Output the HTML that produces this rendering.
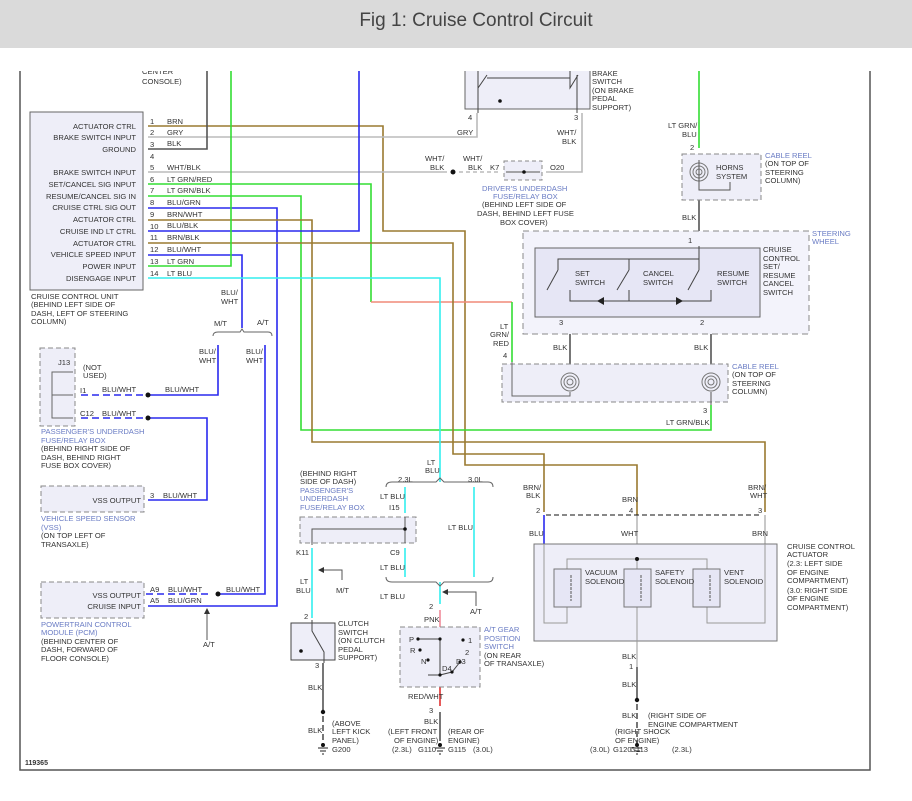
<!DOCTYPE html>
<html><head><meta charset="utf-8"><style>
html,body{margin:0;padding:0;background:#fff;}
svg{display:block;}
text{font-family:"Liberation Sans",sans-serif;font-size:7.6px;fill:#333;}
.b{fill:#6a7cc4;}
</style></head><body>
<svg width="912" height="801" viewBox="0 0 912 801" xmlns="http://www.w3.org/2000/svg">
<!-- frame -->
<path d="M20 60V770H870V60" fill="none" stroke="#555" stroke-width="1.5"/>
<g fill="none" stroke-width="1.6">
<path d="M148 126H383V231H465V465H637V515" stroke="#9a7a30"/>
<path d="M148 137H477V113" stroke="#bbb"/>
<path d="M148 149H207V60" stroke="#555"/>
<path d="M148 172H447" stroke="#bbb"/>
<path d="M459 172H500" stroke="#bbb" stroke-dasharray="4 3"/>
<path d="M546 172H582V113" stroke="#bbb"/>
<path d="M148 184H371V302" stroke="#33dd33"/>
<path d="M371 302H512" stroke="#f08a78"/>
<path d="M512 302V362" stroke="#33dd33"/>
<path d="M148 196H301V430H711V405" stroke="#33dd33"/>
<path d="M148 208H277V606H148" stroke="#2a2aee"/>
<path d="M148 220H312V442H765V512" stroke="#9a7a30"/>
<path d="M148 231H359V60" stroke="#2a2aee"/>
<path d="M148 243H453V454H544V512" stroke="#9a7a30"/>
<path d="M148 255H242V328" stroke="#2a2aee"/>
<path d="M148 266H231V60" stroke="#33dd33"/>
<path d="M148 278H440V482" stroke="#33eeee"/>
<path d="M699 60V148" stroke="#33dd33"/>
<path d="M218 345V395H154" stroke="#2a2aee"/>
<path d="M154 395H80M154 418H80M80 594H208" stroke="#2a2aee" stroke-dasharray="7 4"/>
<path d="M154 418H207V500H148" stroke="#2a2aee"/>
<path d="M265 345V594H220" stroke="#2a2aee"/>
<path d="M405 487V513M474 487V577M405 548V577M312 548V618M440 582V604" stroke="#33eeee"/>
<path d="M440 610V627" stroke="#f08a9a"/>
<path d="M440 687V706" stroke="#e03030"/>
<path d="M544 515V544" stroke="#2a2aee"/>
<path d="M637 515V559M765 515V544" stroke="#bbb"/>
<path d="M699 190V246M570 318V375M711 318V375M323 663V712M440 712V735M637 667V700" stroke="#555"/>
<path d="M323 716V745M440 735V745M637 704V745" stroke="#555" stroke-dasharray="6 3"/>
</g>
<g fill="#111"><circle cx="453" cy="172" r="2.5"/><circle cx="148" cy="395" r="2.5"/><circle cx="148" cy="418" r="2.5"/><circle cx="218" cy="594" r="2.5"/><circle cx="323" cy="712" r="2.2"/><circle cx="637" cy="700" r="2.2"/></g>
<path d="M213 336Q213 332 218 332H240L242 329L244 332H268Q272 332 272 336" fill="none" stroke="#666"/>
<path d="M386 487Q386 482 392 482H436L440 478L444 482H488Q493 482 493 487" fill="none" stroke="#666"/>
<path d="M386 577Q386 582 392 582H436L440 586L444 582H488Q493 582 493 577" fill="none" stroke="#666"/>
<rect x="30" y="112" width="113" height="178" fill="#eeeef8" stroke="#666"/>
<g text-anchor="end">
<text x="136" y="129">ACTUATOR CTRL</text><text x="136" y="140">BRAKE SWITCH INPUT</text><text x="136" y="152">GROUND</text>
<text x="136" y="175">BRAKE SWITCH INPUT</text><text x="136" y="187">SET/CANCEL SIG INPUT</text><text x="136" y="199">RESUME/CANCEL SIG IN</text>
<text x="136" y="210">CRUISE CTRL SIG OUT</text><text x="136" y="222">ACTUATOR CTRL</text><text x="136" y="234">CRUISE IND LT CTRL</text>
<text x="136" y="246">ACTUATOR CTRL</text><text x="136" y="257">VEHICLE SPEED INPUT</text><text x="136" y="269">POWER INPUT</text><text x="136" y="281">DISENGAGE INPUT</text>
</g>
<g>
<text x="150" y="124">1</text><text x="167" y="124">BRN</text><text x="150" y="135">2</text><text x="167" y="135">GRY</text>
<text x="150" y="147">3</text><text x="167" y="146">BLK</text><text x="150" y="159">4</text>
<text x="150" y="170">5</text><text x="167" y="170">WHT/BLK</text><text x="150" y="182">6</text><text x="167" y="182">LT GRN/RED</text>
<text x="150" y="193">7</text><text x="167" y="193">LT GRN/BLK</text><text x="150" y="205">8</text><text x="167" y="205">BLU/GRN</text>
<text x="150" y="217">9</text><text x="167" y="217">BRN/WHT</text><text x="150" y="229">10</text><text x="167" y="228">BLU/BLK</text>
<text x="150" y="240">11</text><text x="167" y="240">BRN/BLK</text><text x="150" y="252">12</text><text x="167" y="252">BLU/WHT</text>
<text x="150" y="264">13</text><text x="167" y="264">LT GRN</text><text x="150" y="276">14</text><text x="167" y="276">LT BLU</text>
<text x="31" y="299">CRUISE CONTROL UNIT</text><text x="31" y="307">(BEHIND LEFT SIDE OF</text><text x="31" y="316">DASH, LEFT OF STEERING</text><text x="31" y="324">COLUMN)</text>
<text x="142" y="74">CENTER</text><text x="142" y="84">CONSOLE)</text>
<text x="221" y="295">BLU/</text><text x="221" y="304">WHT</text>
<text x="214" y="326">M/T</text><text x="257" y="325">A/T</text>
<text x="199" y="354">BLU/</text><text x="199" y="363">WHT</text><text x="246" y="354">BLU/</text><text x="246" y="363">WHT</text>
</g>
<rect x="40" y="348" width="35" height="78" fill="#eeeef8" stroke="#888" stroke-dasharray="5 3"/>
<path d="M73 372H52V418H73M52 395H73" fill="none" stroke="#666"/>
<text x="58" y="365">J13</text><text x="83" y="370">(NOT</text><text x="83" y="378">USED)</text>
<text x="80" y="393">I1</text><text x="102" y="392">BLU/WHT</text><text x="165" y="392">BLU/WHT</text>
<text x="80" y="416">C12</text><text x="102" y="416">BLU/WHT</text>
<text x="41" y="434" class="b">PASSENGER'S UNDERDASH</text><text x="41" y="443" class="b">FUSE/RELAY BOX</text>
<text x="41" y="451">(BEHIND RIGHT SIDE OF</text><text x="41" y="460">DASH, BEHIND RIGHT</text><text x="41" y="468">FUSE BOX COVER)</text>
<rect x="41" y="486" width="103" height="26" fill="#eeeef8" stroke="#888" stroke-dasharray="5 3"/>
<text x="141" y="503" text-anchor="end">VSS OUTPUT</text><text x="150" y="498">3</text><text x="163" y="498">BLU/WHT</text>
<text x="41" y="521" class="b">VEHICLE SPEED SENSOR</text><text x="41" y="530" class="b">(VSS)</text>
<text x="41" y="538">(ON TOP LEFT OF</text><text x="41" y="547">TRANSAXLE)</text>
<rect x="41" y="582" width="103" height="36" fill="#eeeef8" stroke="#888" stroke-dasharray="5 3"/>
<text x="141" y="598" text-anchor="end">VSS OUTPUT</text><text x="141" y="609" text-anchor="end">CRUISE INPUT</text>
<text x="150" y="592">A9</text><text x="168" y="592">BLU/WHT</text><text x="226" y="592">BLU/WHT</text>
<text x="150" y="603">A5</text><text x="168" y="603">BLU/GRN</text>
<text x="41" y="627" class="b">POWERTRAIN CONTROL</text><text x="41" y="635" class="b">MODULE (PCM)</text>
<text x="41" y="644">(BEHIND CENTER OF</text><text x="41" y="652">DASH, FORWARD OF</text><text x="41" y="661">FLOOR CONSOLE)</text>
<path d="M207 640V612" stroke="#555"/><path d="M204 614L207 608L210 614Z" fill="#333"/>
<text x="203" y="647">A/T</text>
<text x="25" y="765" style="font-weight:bold;font-size:7px">119365</text>
<rect x="465" y="60" width="125" height="49" fill="#eeeef8" stroke="#666"/>
<path d="M478 60V88L487 75M487 78H570M570 60V88L578 75M577 75V113M478 88V113" fill="none" stroke="#444"/>
<circle cx="500" cy="101" r="1.8" fill="#111"/>
<text x="468" y="120">4</text><text x="574" y="120">3</text>
<text x="457" y="135">GRY</text><text x="557" y="135">WHT/</text><text x="562" y="144">BLK</text>
<text x="592" y="76">BRAKE</text><text x="592" y="84">SWITCH</text><text x="592" y="93">(ON BRAKE</text><text x="592" y="101">PEDAL</text><text x="592" y="110">SUPPORT)</text>
<text x="425" y="161">WHT/</text><text x="430" y="170">BLK</text><text x="463" y="161">WHT/</text><text x="468" y="170">BLK</text>
<rect x="504" y="161" width="38" height="19" fill="#eeeef8" stroke="#888" stroke-dasharray="4 3"/>
<path d="M506 172H540" stroke="#555"/><circle cx="524" cy="172" r="1.8" fill="#111"/>
<text x="490" y="170">K7</text><text x="550" y="170">O20</text>
<text x="482" y="191" class="b">DRIVER'S UNDERDASH</text><text x="493" y="199" class="b">FUSE/RELAY BOX</text>
<text x="482" y="207">(BEHIND LEFT SIDE OF</text><text x="477" y="216">DASH, BEHIND LEFT FUSE</text><text x="500" y="225">BOX COVER)</text>
<text x="668" y="128">LT GRN/</text><text x="682" y="137">BLU</text><text x="690" y="150">2</text>
<rect x="682" y="154" width="79" height="46" fill="#eeeef8" stroke="#888" stroke-dasharray="5 3"/>
<g fill="none" stroke="#777"><circle cx="699" cy="172" r="9"/><circle cx="699" cy="172" r="6"/><circle cx="699" cy="172" r="3"/></g>
<path d="M699 160V190H730V182" fill="none" stroke="#555"/>
<text x="716" y="170">HORNS</text><text x="716" y="179">SYSTEM</text>
<text x="765" y="158" class="b">CABLE REEL</text><text x="765" y="166">(ON TOP OF</text><text x="765" y="175">STEERING</text><text x="765" y="183">COLUMN)</text>
<text x="682" y="220">BLK</text>
<rect x="523" y="231" width="286" height="103" fill="#f3f3fb" stroke="#888" stroke-dasharray="6 4"/>
<text x="812" y="236" class="b">STEERING</text><text x="812" y="244" class="b">WHEEL</text>
<rect x="535" y="248" width="225" height="69" fill="#e6e6f5" stroke="#666"/>
<text x="688" y="243">1</text>
<path d="M699 246V259H558V270M629 259V270M699 259V270M570 290V301H711V290M629 290V301" fill="none" stroke="#444"/>
<path d="M547 290L558 270M617 290L629 270M688 290L699 270" stroke="#444"/>
<path d="M604 297L597 301L604 305ZM676 297L683 301L676 305Z" fill="#222"/>
<text x="575" y="276">SET</text><text x="575" y="285">SWITCH</text><text x="643" y="276">CANCEL</text><text x="643" y="285">SWITCH</text>
<text x="717" y="276">RESUME</text><text x="717" y="285">SWITCH</text>
<text x="763" y="252">CRUISE</text><text x="763" y="261">CONTROL</text><text x="763" y="269">SET/</text><text x="763" y="278">RESUME</text><text x="763" y="286">CANCEL</text><text x="763" y="295">SWITCH</text>
<text x="559" y="325">3</text><text x="700" y="325">2</text>
<text x="553" y="350">BLK</text><text x="694" y="350">BLK</text>
<text x="500" y="329">LT</text><text x="490" y="337">GRN/</text><text x="493" y="346">RED</text><text x="503" y="358">4</text>
<rect x="502" y="364" width="226" height="38" fill="#eeeef8" stroke="#888" stroke-dasharray="5 3"/>
<path d="M512 362V396H570V392" fill="none" stroke="#666"/>
<g fill="none" stroke="#777"><circle cx="570" cy="382" r="9"/><circle cx="570" cy="382" r="6"/><circle cx="570" cy="382" r="3"/><circle cx="711" cy="382" r="9"/><circle cx="711" cy="382" r="6"/><circle cx="711" cy="382" r="3"/></g>
<path d="M711 392V405" stroke="#555"/>
<text x="732" y="369" class="b">CABLE REEL</text><text x="732" y="377">(ON TOP OF</text><text x="732" y="386">STEERING</text><text x="732" y="394">COLUMN)</text>
<text x="703" y="413">3</text><text x="666" y="425">LT GRN/BLK</text>
<text x="427" y="465">LT</text><text x="425" y="473">BLU</text>
<text x="398" y="482">2.3L</text><text x="468" y="482">3.0L</text>
<text x="380" y="499">LT BLU</text><text x="389" y="510">I15</text>
<text x="448" y="530">LT BLU</text>
<text x="300" y="476">(BEHIND RIGHT</text><text x="300" y="484">SIDE OF DASH)</text>
<text x="300" y="493" class="b">PASSENGER'S</text><text x="300" y="501" class="b">UNDERDASH</text><text x="300" y="510" class="b">FUSE/RELAY BOX</text>
<rect x="300" y="517" width="116" height="26" fill="#eeeef8" stroke="#888" stroke-dasharray="5 3"/>
<path d="M405 517V543M405 529H312V545" fill="none" stroke="#555"/><circle cx="405" cy="529" r="1.8" fill="#111"/>
<text x="296" y="555">K11</text><text x="390" y="555">C9</text>
<text x="380" y="570">LT BLU</text>
<text x="300" y="584">LT</text><text x="296" y="593">BLU</text>
<path d="M342 580V570H322" fill="none" stroke="#555"/><path d="M324 567L318 570L324 573Z" fill="#333"/>
<text x="336" y="593">M/T</text>
<text x="304" y="619">2</text>
<rect x="291" y="623" width="44" height="37" fill="#eeeef8" stroke="#444"/>
<path d="M312 620V631L324 652V663" fill="none" stroke="#444"/><circle cx="301" cy="651" r="1.8" fill="#111"/>
<text x="338" y="626">CLUTCH</text><text x="338" y="635">SWITCH</text><text x="338" y="643">(ON CLUTCH</text><text x="338" y="652">PEDAL</text><text x="338" y="660">SUPPORT)</text>
<text x="315" y="668">3</text><text x="308" y="690">BLK</text><text x="308" y="733">BLK</text>
<text x="332" y="726">(ABOVE</text><text x="332" y="734">LEFT KICK</text><text x="332" y="743">PANEL)</text><text x="332" y="752">G200</text>
<text x="380" y="599">LT BLU</text><text x="429" y="609">2</text>
<path d="M476 606V592H446" fill="none" stroke="#555"/><path d="M448 589L442 592L448 595Z" fill="#333"/>
<text x="470" y="614">A/T</text><text x="424" y="622">PNK</text>
<rect x="400" y="627" width="80" height="60" fill="#eeeef8" stroke="#888" stroke-dasharray="5 3"/>
<path d="M418 639H440V675H428M440 675L452 672L460 662M440 675H431" fill="none" stroke="#444"/>
<g fill="#111"><circle cx="418" cy="639" r="1.6"/><circle cx="440" cy="639" r="1.6"/><circle cx="463" cy="640" r="1.6"/><circle cx="420" cy="650" r="1.6"/><circle cx="428" cy="660" r="1.6"/><circle cx="440" cy="675" r="1.6"/><circle cx="452" cy="672" r="1.6"/><circle cx="460" cy="662" r="1.6"/></g>
<text x="409" y="642">P</text><text x="410" y="653">R</text><text x="421" y="664">N</text><text x="468" y="643">1</text><text x="465" y="655">2</text><text x="456" y="664">D3</text><text x="442" y="671">D4</text>
<text x="484" y="632" class="b">A/T GEAR</text><text x="484" y="641" class="b">POSITION</text><text x="484" y="649" class="b">SWITCH</text><text x="484" y="658">(ON REAR</text><text x="484" y="666">OF TRANSAXLE)</text>
<text x="408" y="699">RED/WHT</text><text x="429" y="713">3</text><text x="424" y="724">BLK</text>
<text x="388" y="734">(LEFT FRONT</text><text x="394" y="743">OF ENGINE)</text><text x="448" y="734">(REAR OF</text><text x="448" y="743">ENGINE)</text>
<text x="392" y="752">(2.3L)</text><text x="418" y="752">G110</text><text x="448" y="752">G115</text><text x="473" y="752">(3.0L)</text>
<g stroke="#222"><path d="M318 748H328M320 751H326M322 754H324M435 748H445M437 751H443M439 754H441M632 748H642M634 751H640M636 754H638"/></g>
<g fill="#111"><circle cx="323" cy="745" r="2"/><circle cx="440" cy="745" r="2"/><circle cx="637" cy="745" r="2"/></g>
<text x="523" y="490">BRN/</text><text x="526" y="498">BLK</text><text x="622" y="502">BRN</text><text x="748" y="490">BRN/</text><text x="750" y="498">WHT</text>
<text x="536" y="513">2</text><text x="629" y="513">4</text><text x="758" y="513">3</text>
<path d="M546 515H762" stroke="#111" stroke-dasharray="5 3"/>
<text x="529" y="536">BLU</text><text x="621" y="536">WHT</text><text x="752" y="536">BRN</text>
<rect x="534" y="544" width="243" height="97" fill="#eeeef8" stroke="#777"/>
<path d="M544 544V623H567V559H707V623H765V544M637 559V667" fill="none" stroke="#999"/>
<circle cx="637" cy="559" r="2" fill="#111"/>
<g fill="#e6e6f5" stroke="#777"><rect x="554" y="569" width="27" height="38"/><rect x="624" y="569" width="27" height="38"/><rect x="693" y="569" width="27" height="38"/></g>
<path d="M571 575v26M641 575v26M710 575v26" stroke="#555" fill="none" stroke-dasharray="3 1"/>
<text x="585" y="575">VACUUM</text><text x="585" y="584">SOLENOID</text><text x="655" y="575">SAFETY</text><text x="655" y="584">SOLENOID</text><text x="724" y="575">VENT</text><text x="724" y="584">SOLENOID</text>
<text x="787" y="549">CRUISE CONTROL</text><text x="787" y="557">ACTUATOR</text><text x="787" y="566">(2.3: LEFT SIDE</text><text x="787" y="575">OF ENGINE</text><text x="787" y="583">COMPARTMENT)</text><text x="787" y="593">(3.0: RIGHT SIDE</text><text x="787" y="601">OF ENGINE</text><text x="787" y="610">COMPARTMENT)</text>
<text x="622" y="659">BLK</text><text x="629" y="669">1</text><text x="622" y="687">BLK</text><text x="622" y="718">BLK</text>
<text x="648" y="718">(RIGHT SIDE OF</text><text x="648" y="727">ENGINE COMPARTMENT</text>
<text x="615" y="734">(RIGHT SHOCK</text><text x="615" y="743">OF ENGINE)</text>
<text x="590" y="752">(3.0L)</text><text x="613" y="752">G120</text><text x="630" y="752">G113</text><text x="672" y="752">(2.3L)</text>
<!-- crop mask top -->
<rect x="0" y="48" width="912" height="23" fill="#fff"/>
<rect x="0" y="0" width="912" height="48" fill="#dadada"/>
<text x="476" y="26" text-anchor="middle" style="font-size:19px;fill:#444">Fig 1: Cruise Control Circuit</text>
</svg>
</body></html>
